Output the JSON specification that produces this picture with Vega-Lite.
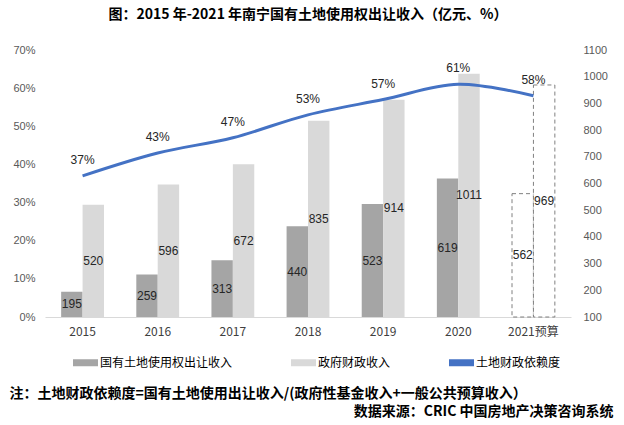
{
  "$schema": "https://vega.github.io/schema/vega-lite/v6.json",
  "width": 526,
  "height": 267,
  "autosize": "none",
  "padding": {"left": 45, "top": 50, "right": 53, "bottom": 108},
  "background": "white",
  "config": {
    "view": {"stroke": null},
    "font": "Noto Sans CJK SC",
    "axis": {"grid": false}
  },
  "title": {
    "text": "图：2015 年-2021 年南宁国有土地使用权出让收入（亿元、%）",
    "font": "Noto Sans CJK SC",
    "fontSize": 14,
    "fontWeight": "bold",
    "color": "#000000",
    "offset": 22,
    "anchor": "middle",
    "frame": "group"
  },
  "datasets": {
    "bars": [
      {"year": "2015", "series": "国有土地使用权出让收入", "value": 195},
      {"year": "2015", "series": "政府财政收入", "value": 520},
      {"year": "2016", "series": "国有土地使用权出让收入", "value": 259},
      {"year": "2016", "series": "政府财政收入", "value": 596},
      {"year": "2017", "series": "国有土地使用权出让收入", "value": 313},
      {"year": "2017", "series": "政府财政收入", "value": 672},
      {"year": "2018", "series": "国有土地使用权出让收入", "value": 440},
      {"year": "2018", "series": "政府财政收入", "value": 835},
      {"year": "2019", "series": "国有土地使用权出让收入", "value": 523},
      {"year": "2019", "series": "政府财政收入", "value": 914},
      {"year": "2020", "series": "国有土地使用权出让收入", "value": 619},
      {"year": "2020", "series": "政府财政收入", "value": 1011},
      {"year": "2021预算", "series": "国有土地使用权出让收入", "value": 562},
      {"year": "2021预算", "series": "政府财政收入", "value": 969}
    ],
    "ratio": [
      {"year": "2015", "ratio": 0.37},
      {"year": "2016", "ratio": 0.43},
      {"year": "2017", "ratio": 0.47},
      {"year": "2018", "ratio": 0.53},
      {"year": "2019", "ratio": 0.57},
      {"year": "2020", "ratio": 0.61},
      {"year": "2021预算", "ratio": 0.58}
    ]
  },
  "encoding": {
    "x": {
      "field": "year",
      "type": "nominal",
      "scale": {
        "domain": ["2015", "2016", "2017", "2018", "2019", "2020", "2021预算"],
        "paddingInner": 0.43,
        "paddingOuter": 0.215
      },
      "axis": {
        "title": null,
        "labelAngle": 0,
        "ticks": false,
        "domainColor": "#d9d9d9",
        "domainWidth": 1,
        "labelPadding": 9,
        "labelFontSize": 12,
        "labelColor": "#404040",
        "labelFont": "Noto Sans CJK SC"
      }
    }
  },
  "layer": [
    {
      "data": {"name": "bars"},
      "transform": [{"calculate": "(datum.value + 100) / 2", "as": "mid"}],
      "encoding": {
        "xOffset": {
          "field": "series",
          "type": "nominal",
          "scale": {"domain": ["国有土地使用权出让收入", "政府财政收入"], "paddingInner": 0, "paddingOuter": 0}
        }
      },
      "layer": [
        {
          "mark": {"type": "bar", "strokeDash": [4, 3], "strokeWidth": 1},
          "encoding": {
            "y": {
              "field": "value",
              "type": "quantitative",
              "scale": {"domain": [100, 1100], "zero": false, "nice": false},
              "axis": {
                "orient": "right",
                "format": "d",
                "values": [100, 200, 300, 400, 500, 600, 700, 800, 900, 1000, 1100],
                "ticks": false,
                "domain": false,
                "labelPadding": 12,
                "labelFontSize": 11,
                "labelColor": "#595959",
                "labelFont": "Liberation Sans",
                "title": "数据来源：CRIC 中国房地产决策咨询系统",
                "titleAngle": 0,
                "titleAlign": "right",
                "titleBaseline": "middle",
                "titleX": 42,
                "titleY": 361,
                "titleFontSize": 14,
                "titleFontWeight": "bold",
                "titleColor": "#000000",
                "titleFont": "Noto Sans CJK SC"
              }
            },
            "y2": {"datum": 100},
            "color": {
              "field": "series",
              "type": "nominal",
              "scale": {
                "domain": ["国有土地使用权出让收入", "政府财政收入", "土地财政依赖度"],
                "range": ["#a5a5a5", "#d9d9d9", "#4472c4"]
              },
              "condition": {"test": "datum.year === '2021预算'", "value": "white"},
              "legend": {
                "orient": "none",
                "legendX": 28,
                "legendY": 300,
                "direction": "horizontal",
                "title": null,
                "symbolType": "M-1,-0.28H1V0.28H-1Z",
                "symbolSize": 625,
                "symbolStrokeWidth": 0,
                "labelFontSize": 12,
                "labelColor": "#000000",
                "labelFont": "Noto Sans CJK SC",
                "labelOffset": 2,
                "columnPadding": 58,
                "encode": {
                  "symbols": {
                    "update": {
                      "shape": {"signal": "datum.value === '土地财政依赖度' ? 'M-1,-0.1H1V0.1H-1Z' : 'M-1,-0.28H1V0.28H-1Z'"}
                    }
                  }
                }
              }
            },
            "stroke": {
              "condition": {"test": "datum.year === '2021预算'", "value": "#808080"},
              "value": null
            }
          }
        },
        {
          "mark": {"type": "text", "fontSize": 12, "color": "#262626", "font": "Liberation Sans", "baseline": "middle"},
          "encoding": {
            "y": {
              "field": "mid",
              "type": "quantitative",
              "scale": {"domain": [100, 1100], "zero": false, "nice": false},
              "axis": {
                "orient": "right",
                "format": "d",
                "values": [100, 200, 300, 400, 500, 600, 700, 800, 900, 1000, 1100],
                "ticks": false,
                "domain": false,
                "labelPadding": 12,
                "labelFontSize": 11,
                "labelColor": "#595959",
                "labelFont": "Liberation Sans",
                "title": "数据来源：CRIC 中国房地产决策咨询系统",
                "titleAngle": 0,
                "titleAlign": "right",
                "titleBaseline": "middle",
                "titleX": 42,
                "titleY": 361,
                "titleFontSize": 14,
                "titleFontWeight": "bold",
                "titleColor": "#000000",
                "titleFont": "Noto Sans CJK SC"
              }
            },
            "text": {"field": "value", "type": "quantitative", "format": "d"}
          }
        }
      ]
    },
    {
      "data": {"name": "ratio"},
      "encoding": {
        "y": {
          "field": "ratio",
          "type": "quantitative",
          "scale": {"domain": [0, 0.7], "nice": false},
          "axis": {
            "orient": "left",
            "format": ".0%",
            "values": [0, 0.1, 0.2, 0.3, 0.4, 0.5, 0.6, 0.7],
            "ticks": false,
            "domain": false,
            "labelPadding": 10,
            "labelFontSize": 11,
            "labelColor": "#595959",
            "labelFont": "Liberation Sans",
            "title": "注：土地财政依赖度=国有土地使用出让收入/(政府性基金收入+一般公共预算收入）",
            "titleAngle": 0,
            "titleAlign": "left",
            "titleBaseline": "middle",
            "titleX": -36,
            "titleY": 343,
            "titleFontSize": 14,
            "titleFontWeight": "bold",
            "titleColor": "#000000",
            "titleFont": "Noto Sans CJK SC"
          }
        }
      },
      "layer": [
        {
          "mark": {"type": "line", "interpolate": "catmull-rom", "strokeWidth": 3, "color": "#4472c4"}
        },
        {
          "mark": {"type": "text", "dy": -16, "fontSize": 12, "color": "#262626", "font": "Liberation Sans", "baseline": "middle"},
          "encoding": {
            "text": {"field": "ratio", "type": "quantitative", "format": ".0%"}
          }
        }
      ]
    }
  ],
  "resolve": {"scale": {"y": "independent"}}
}
